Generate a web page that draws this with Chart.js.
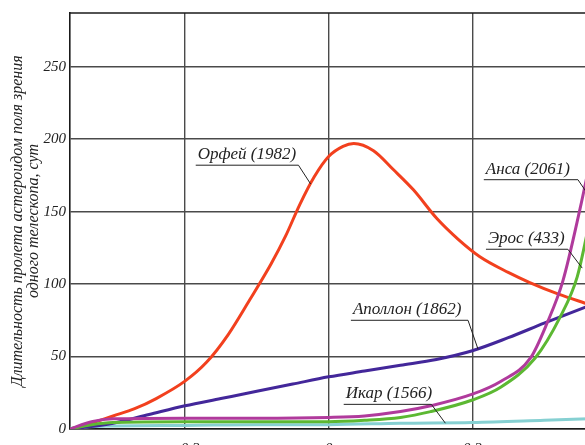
<!DOCTYPE html>
<html>
<head>
<meta charset="utf-8">
<script src="https://cdn.jsdelivr.net/npm/chart.js@4"></script>
<style>
  html, body { margin: 0; padding: 0; background: #fff; overflow: hidden; }
  #wrap { width: 620px; height: 470px; }
</style>
</head>
<body>
<div id="wrap"><canvas id="chart"></canvas></div>
<script>
const xTicks = [-0.2, 0, 0.2];
const yTicks = [0, 50, 100, 150, 200, 250];

const ansaX = [-0.36, -0.33, -0.3, -0.2, -0.1, 0, 0.05, 0.1, 0.142, 0.2, 0.24, 0.281, 0.304, 0.326, 0.35, 0.362];
const ansaY = [0, 5, 7, 7.5, 7.5, 8, 9, 12, 16, 24, 33, 49, 73, 102, 152, 180];

const erosX = [-0.36, -0.33, -0.3, -0.2, -0.1, 0, 0.05, 0.1, 0.142, 0.2, 0.24, 0.2875, 0.322, 0.346, 0.362];
const erosY = [0, 3, 4.5, 5, 5, 5, 6, 8, 12, 20, 29, 49, 77, 105, 140];

const orpheusX = [-0.36, -0.33, -0.3, -0.27, -0.24, -0.2, -0.17, -0.14, -0.11, -0.08, -0.06, -0.04, -0.02, 0, 0.02, 0.035, 0.0625, 0.09, 0.118, 0.151, 0.18, 0.21, 0.25, 0.28, 0.32, 0.362];
const orpheusY = [0, 4, 9, 14, 21, 33, 46, 65, 89, 114, 133, 155, 174, 188, 195, 197, 192, 179, 165, 145, 131, 119, 108, 101, 93, 86];

const apolloX = [-0.36, -0.3, -0.25, -0.2, -0.15, -0.1, -0.05, 0, 0.05, 0.1, 0.15, 0.2, 0.25, 0.3, 0.362];
const apolloY = [0, 4, 10, 16, 21, 26, 31, 36, 40, 44, 48, 54, 63, 73, 85];

const icarusX = [-0.36, -0.31, -0.2, -0.1, 0, 0.1, 0.2, 0.3, 0.362];
const icarusY = [0.5, 2, 2.5, 3, 3, 4, 4.5, 6, 7];

const pts = (xs, ys) => xs.map((v, i) => ({ x: v, y: ys[i] }));

const notes = [
  { text: "Орфей (1982)", x0: -0.185, x1: -0.042, y: 182, px: -0.025, py: 169 },
  { text: "Анса (2061)", x0: 0.216, x1: 0.347, y: 172, px: 0.358, py: 164 },
  { text: "Эрос (433)", x0: 0.219, x1: 0.333, y: 124, px: 0.353, py: 111 },
  { text: "Аполлон (1862)", x0: 0.031, x1: 0.194, y: 75, px: 0.208, py: 55 },
  { text: "Икар (1566)", x0: 0.021, x1: 0.143, y: 17, px: 0.1625, py: 4 }
];

const font = { family: "'Liberation Serif', serif", style: "italic", size: 15 };

const framePlugin = {
  id: "frame",
  beforeDatasetsDraw(chart) {
    const { ctx, chartArea: a } = chart;
    ctx.save();
    ctx.strokeStyle = "#1a1a1a";
    ctx.lineWidth = 1.6;
    ctx.beginPath();
    ctx.moveTo(a.left, a.top);
    ctx.lineTo(a.right, a.top);
    ctx.stroke();
    ctx.restore();
  },
  afterDatasetsDraw(chart) {
    const { ctx, scales: { x, y } } = chart;
    ctx.save();
    ctx.strokeStyle = "#222";
    ctx.fillStyle = "#222";
    ctx.lineWidth = 1;
    ctx.font = "italic 17px 'Liberation Serif'";
    ctx.textBaseline = "alphabetic";
    notes.forEach(n => {
      const ux0 = x.getPixelForValue(n.x0);
      const ux1 = x.getPixelForValue(n.x1);
      const uy = y.getPixelForValue(n.y);
      ctx.beginPath();
      ctx.moveTo(ux0, uy);
      ctx.lineTo(ux1, uy);
      ctx.lineTo(x.getPixelForValue(n.px), y.getPixelForValue(n.py));
      ctx.stroke();
      ctx.fillText(n.text, ux0 + 2, uy - 6);
    });
    ctx.restore();
  }
};

const line = (data, color) => ({
  data: data,
  borderColor: color,
  borderWidth: 3,
  pointRadius: 0,
  fill: false,
  cubicInterpolationMode: "monotone"
});

new Chart(document.getElementById("chart"), {
  type: "line",
  data: {
    datasets: [
      line(pts(ansaX, ansaY), "#b03a9c"),
      line(pts(erosX, erosY), "#5cb832"),
      line(pts(orpheusX, orpheusY), "#f2401e"),
      line(pts(apolloX, apolloY), "#43279a"),
      line(pts(icarusX, icarusY), "#86d0d2")
    ]
  },
  options: {
    responsive: true,
    maintainAspectRatio: false,
    animation: false,
    layout: { padding: { top: 10, right: 4, left: 0, bottom: 0 } },
    plugins: { legend: { display: false }, tooltip: { enabled: false } },
    scales: {
      x: {
        type: "linear",
        min: -0.36,
        max: 0.4,
        afterBuildTicks: s => { s.ticks = xTicks.map(v => ({ value: v })); },
        afterFit: s => { s.height = 41; },
        grid: { color: "#4a4a4a", lineWidth: 1.4, drawTicks: false },
        border: { color: "#1a1a1a", width: 1.6 },
        ticks: {
          padding: 11,
          color: "#222",
          font: font,
          callback: v => (v < 0 ? "\u2212" + Math.abs(v) : String(v))
        }
      },
      y: {
        min: 0,
        max: 287,
        afterBuildTicks: s => { s.ticks = yTicks.map(v => ({ value: v })); },
        afterFit: s => { s.width = 70; },
        grid: { color: "#4a4a4a", lineWidth: 1.4, drawTicks: false },
        border: { color: "#1a1a1a", width: 1.6 },
        ticks: { padding: 4, color: "#222", font: font },
        title: {
          display: true,
          text: ["Длительность пролета астероидом поля зрения", "одного телескопа, сут"],
          color: "#222",
          font: { family: "'Liberation Serif', serif", style: "italic", size: 16, lineHeight: 1.0 },
          padding: { top: 10, bottom: 0 }
        }
      }
    }
  },
  plugins: [framePlugin]
});
</script>
</body>
</html>
